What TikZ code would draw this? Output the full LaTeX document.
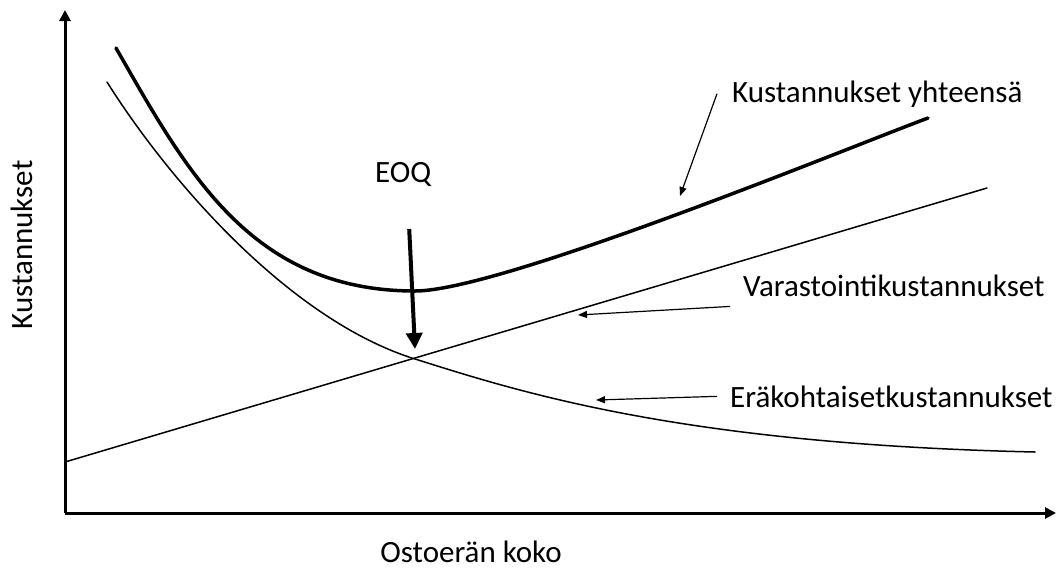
\documentclass[tikz,border=0pt]{standalone}
\usepackage{fontspec}
\setmainfont{Carlito}
\usepackage{tikz}
\usetikzlibrary{arrows.meta, positioning}
\tikzstyle{lbl}      = [inner sep=0pt, font=\fontsize{31}{37}\selectfont]
\tikzstyle{axis}     = [line width=3pt, -{Triangle[length=11pt, width=11pt]}]
\tikzstyle{curve}    = [line width=1.5pt, line cap=round]
\tikzstyle{total}    = [line width=3.5pt, line cap=round]
\tikzstyle{pointer}  = [line width=1.2pt, -{Triangle[length=9pt, width=7pt]}]
\tikzstyle{eoqarrow} = [line width=4pt, -{Triangle[length=16pt, width=16pt]}]

\begin{document}
\begin{tikzpicture}[x=1pt, y=-1pt]
    \useasboundingbox (0,0) rectangle (1056,568);

    % axes
    \coordinate (origin) at (65,513);
    \coordinate (ytop) at (65,10);
    \coordinate (xend) at (1056,513);
    \draw[axis] (origin) -- (ytop);
    \draw[axis] (origin) -- (xend);
    \node (ylabel) [lbl, rotate=90] at (22,245) {Kustannukset};
    \node (xlabel) [lbl, anchor=base] at (471,562) {Ostoerän koko};

    % cost curves
    \coordinate (hold0) at (65,462);
    \coordinate (hold1) at (987,188);
    \coordinate (eoqpt) at (415,359);
    \draw[curve] (hold0) -- (hold1);
    \draw[curve] (107,82) .. controls (170,182) and (290,320) .. (eoqpt)
        .. controls (520,392) and (680,444) .. (1035,452);
    \draw[total] (116,48) .. controls (186,170) and (250,291) .. (415,291)
        .. controls (500,291) and (840,151) .. (928,118);

    % labels
    \node (eoq)  [lbl, anchor=base west] at (375,182) {EOQ};
    \node (sum)  [lbl, anchor=base west] at (732,102) {Kustannukset yhteensä};
    \node (vara) [lbl, anchor=base west] at (743,296) {Varastointikustannukset};
    \node (era)  [lbl, anchor=base west] at (730,407) {Eräkohtaisetkustannukset};

    \coordinate (eoqtip)  at (415,349);
    \coordinate (sumtip)  at (680,196);
    \coordinate (varatip) at (578,315);
    \coordinate (eratip)  at (596,400);

    \draw[eoqarrow] ([shift={(6,47)}]eoq.base) -- (eoqtip);
    \draw[pointer] ([xshift=-15pt]sum.west) -- (sumtip);
    \draw[pointer] ([shift={(-13,10)}]vara.south west) -- (varatip);
    \draw[pointer] ([xshift=-13pt]era.west) -- (eratip);
\end{tikzpicture}
\end{document}
